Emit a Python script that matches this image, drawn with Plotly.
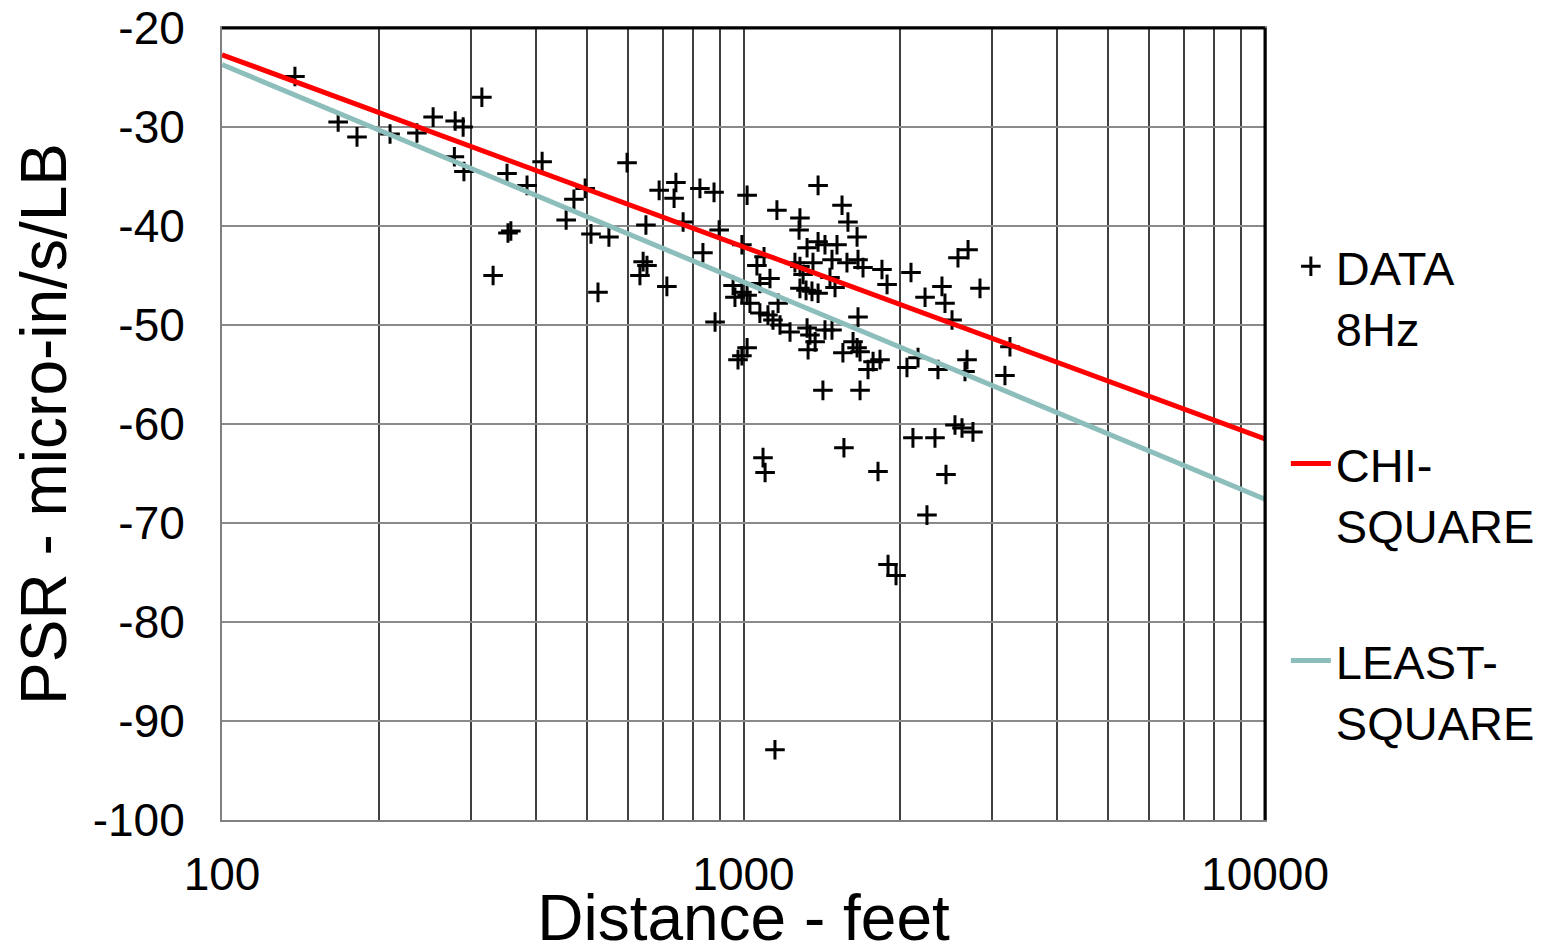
import plotly.graph_objects as go

# Data
dist_ft = [138, 167, 181.5, 210, 236.5, 254, 280, 290, 315, 279, 291, 331, 352, 353.5, 358, 384.5, 411,
           457, 473, 497, 510, 526, 552, 598, 633, 642, 653, 650, 689, 713, 742, 736, 766, 825, 878, 882,
           898, 836, 993, 1016, 1159,
           1061, 1095, 1075, 955, 963, 993, 1016, 1029, 1165, 1075, 1114, 1139, 1175, 1228, 1324, 1341,
           1433, 1478, 1372, 1330, 1016, 993, 976, 1390, 1545, 1283, 1586, 1278, 1651, 1324, 1390, 1433,
           1511, 1255, 1359, 1478, 1579, 1658, 1695, 1843, 1885, 2095, 1283, 1301, 1465, 1498, 1124, 1283,
           1318, 1353, 1390, 1658, 1622, 1651, 1673, 1551, 1772, 1827, 1733, 2058, 2161, 1420, 1673,
           2229, 2402, 2434, 2511, 2578, 2695, 2841, 3243, 3172, 2360, 2683, 2659, 2544, 2624, 2754, 2113,
           2329, 1090, 1100, 1558, 1811, 2445, 2248, 1893, 1961, 1149]
psr = [-24.9, -29.5, -31.0, -30.7, -30.6, -29.0, -29.4, -30.0, -27.0, -33.0, -34.5, -45.0, -34.7, -40.7,
       -40.5, -35.9, -33.5, -39.4, -37.3, -36.2, -40.8, -46.7, -41.1, -33.6, -45.0, -43.6, -44.0, -39.9,
       -36.4, -46.1, -35.6, -37.2, -39.6, -36.2, -36.6, -49.7, -40.4, -42.7, -41.9, -36.9, -38.4,
       -44.0, -43.1, -45.8, -46.0, -47.2, -46.7, -47.0, -47.8, -47.8, -48.8, -49.0, -49.5, -50.0, -50.7,
       -50.3, -51.0, -50.5, -50.5, -51.7, -52.5, -52.3, -53.1, -53.5, -35.9, -37.9, -39.2, -39.6, -40.4,
       -41.1, -42.2, -41.6, -41.9, -41.9, -43.7, -43.7, -43.4, -43.7, -43.4, -44.2, -44.4, -45.9, -44.7,
       -44.1, -44.9, -45.2, -46.2, -45.3, -46.3, -46.5, -46.6, -46.8, -49.2, -51.7, -52.3, -52.7, -52.8,
       -53.7, -53.5, -54.5, -54.3, -53.3, -56.6, -56.6,
       -47.2, -46.1, -47.8, -49.5, -43.2, -42.4, -46.3, -52.2, -55.1, -54.5, -53.5, -54.7, -60.1, -60.4,
       -60.8, -61.4, -61.4, -63.4, -64.9, -62.4, -64.8, -65.1, -69.2, -74.2, -75.3, -92.9]

fit_x = [100, 10000]
chi_square_y = [-22.7, -61.5]
least_square_y = [-23.7, -67.6]

x_tickvals = [100, 1000, 10000]
x_ticktext = ["100", "1000", "10000"]
x_minor = [200, 300, 400, 500, 600, 700, 800, 900, 2000, 3000, 4000, 5000, 6000, 7000, 8000, 9000]
y_tickvals = [-20, -30, -40, -50, -60, -70, -80, -90, -100]
y_ticktext = ["-20", "-30", "-40", "-50", "-60", "-70", "-80", "-90", "-100"]

FONT = "Liberation Sans, Arial, sans-serif"

fig = go.Figure()
fig.add_trace(go.Scatter(
    x=dist_ft, y=psr, mode="markers", name="DATA<br>8Hz", legendgroup="a",
    marker=dict(symbol="cross-thin", size=14, color="black", line=dict(width=3, color="black")),
))
fig.add_trace(go.Scatter(
    x=fit_x, y=chi_square_y, mode="lines", name="CHI-<br>SQUARE", legendgroup="b",
    line=dict(color="#FF0000", width=5),
))
fig.add_trace(go.Scatter(
    x=fit_x, y=least_square_y, mode="lines", name="LEAST-<br>SQUARE", legendgroup="c",
    line=dict(color="#8CBEBC", width=5),
))

fig.update_layout(
    width=1548, height=946,
    margin=dict(l=214, r=291, t=20, b=134, autoexpand=False),
    paper_bgcolor="white", plot_bgcolor="white",
    font=dict(family=FONT, color="black"),
    showlegend=True,
    legend=dict(x=1.02, xanchor="left", y=0.746, yanchor="top",
                font=dict(size=47, family=FONT, color="black"),
                tracegroupgap=72, traceorder="grouped", valign="top",
                bgcolor="rgba(0,0,0,0)", itemwidth=40),
    xaxis=dict(
        type="log", range=[2, 4], automargin=False,
        tickvals=x_tickvals, ticktext=x_ticktext,
        tickfont=dict(size=46, family=FONT),
        ticks="", ticklabelstandoff=13, ticklabeloverflow="allow",
        showgrid=True, gridcolor="#404040", gridwidth=1.5,
        minor=dict(tickmode="array", tickvals=x_minor, showgrid=True,
                   gridcolor="#404040", gridwidth=1.5, ticks=""),
        showline=True, linecolor="#808080", linewidth=2, mirror=True,
        title=dict(text="Distance - feet", font=dict(size=64, family=FONT), standoff=12),
        zeroline=False,
    ),
    yaxis=dict(
        range=[-100, -20], automargin=False,
        tickvals=y_tickvals, ticktext=y_ticktext,
        tickfont=dict(size=46, family=FONT),
        ticks="", ticklabelstandoff=26, ticklabeloverflow="allow",
        showgrid=True, gridcolor="#8a8a8a", gridwidth=2,
        showline=True, linecolor="#808080", linewidth=2, mirror=True,
        title=dict(text="PSR - micro-in/s/LB", font=dict(size=64, family=FONT), standoff=9),
        zeroline=False,
    ),
    shapes=[
        dict(type="line", xref="paper", yref="paper", x0=0, x1=1, y0=1, y1=1,
             line=dict(color="black", width=3)),
        dict(type="line", xref="paper", yref="paper", x0=1, x1=1, y0=0, y1=1,
             line=dict(color="black", width=3)),
    ],
)

fig.write_html("out.html")
